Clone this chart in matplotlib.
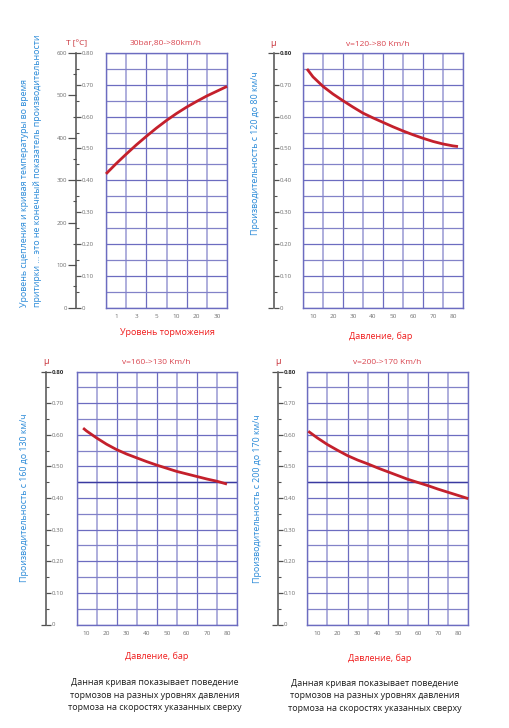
import matplotlib
matplotlib.use("Agg")
import matplotlib.pyplot as plt
import numpy as np

plt.rcParams['font.family'] = ['Open Sans', 'DejaVu Sans']

# ---------------- data ----------------
p1_levels = ["1", "3", "5", "10", "20", "30"]
p1_curve_x = [0, 0.5, 1, 1.5, 2, 2.5, 3, 3.5, 4, 4.5, 5, 5.5, 6]
p1_curve_mu = [0.420, 0.452, 0.482, 0.511, 0.538, 0.564, 0.588, 0.610,
               0.630, 0.648, 0.665, 0.680, 0.695]
p1_temp_ticks = [0, 100, 200, 300, 400, 500, 600]

pressure_labels = [10, 20, 30, 40, 50, 60, 70, 80]

p2_press = [7, 10, 15, 20, 25, 30, 35, 40, 45, 50, 55, 60, 65, 70, 75, 80, 82.5]
p2_mu = [0.750, 0.725, 0.695, 0.671, 0.650, 0.630, 0.611, 0.596, 0.582,
         0.568, 0.555, 0.543, 0.532, 0.522, 0.514, 0.508, 0.506]

p3_press = [8.3, 10, 15, 20, 25, 30, 35, 40, 45, 50, 55, 60, 65, 70, 75, 80]
p3_mu = [0.621, 0.612, 0.590, 0.570, 0.553, 0.539, 0.527, 0.515, 0.504,
         0.494, 0.484, 0.476, 0.468, 0.460, 0.453, 0.444]

p4_press = [5.5, 10, 15, 20, 25, 30, 35, 40, 45, 50, 55, 60, 65, 70, 75, 80, 85]
p4_mu = [0.611, 0.590, 0.569, 0.551, 0.534, 0.520, 0.508, 0.495, 0.483,
         0.471, 0.459, 0.449, 0.439, 0.428, 0.418, 0.408, 0.398]

mu_ticks = [0, 0.1, 0.2, 0.3, 0.4, 0.5, 0.6, 0.7, 0.8]
mu_labels = ["0", "0.10", "0.20", "0.30", "0.40", "0.50", "0.60", "0.70", "0.80"]

titles = ["30bar,80->80km/h", "v=120->80 Km/h", "v=160->130 Km/h", "v=200->170 Km/h"]
ylabels = ["Производительность с 120 до 80 км/ч",
           "Производительность с 160 до 130 км/ч",
           "Производительность с 200 до 170 км/ч"]
p1_ylabel = ("Уровень сцепления и кривая температуры во время\n"
             "притирки ... это не конечный показатель производительности")
p1_xlabel = "Уровень торможения"
press_xlabel = "Давление, бар"
caption = ("Данная кривая показывает поведение\n"
           "тормозов на разных уровнях давления\n"
           "тормоза на скоростях указанных сверху")

# ---------------- style ----------------
W, H = 509, 728
fig = plt.figure(figsize=(W / 100, H / 100), dpi=100)

GRID_D = "#6c6cc0"
GRID_L = "#a8a8da"
CURVE = "#c4202c"
TITLE_RED = "#d9454f"
XLAB_RED = "#f01c1c"
BLUE = "#2a8ad8"
TICK_GRAY = "#707070"
SPINE = "#505050"


def rect(x0, y0, x1, y1):
    return [x0 / W, 1 - y1 / H, (x1 - x0) / W, (y1 - y0) / H]


def grid_axes(box, xlim, vlines, xticks, xticklabels, dark_h=None):
    ax = fig.add_axes(rect(*box))
    ax.set_xlim(*xlim)
    ax.set_ylim(0, 0.8)
    for i, v in enumerate(vlines):
        ax.axvline(v, color=GRID_D if i % 2 == 0 else GRID_L,
                   lw=0.9 if i % 2 == 0 else 1.3, zorder=1)
    for j, h in enumerate(np.arange(0, 0.801, 0.05)):
        ax.axhline(h, color=GRID_D if j % 2 == 0 else "#8282c8", lw=0.9, zorder=1)
    if dark_h is not None:
        ax.axhline(dark_h, color="#3a3aa0", lw=1.0, zorder=1)
    for s in ax.spines.values():
        s.set_color(GRID_D)
        s.set_linewidth(1.0)
    ax.set_yticks([])
    ax.set_xticks(xticks)
    ax.set_xticklabels(xticklabels)
    ax.tick_params(axis='x', length=0, pad=5, labelsize=4.6, labelcolor=TICK_GRAY)
    return ax


def thin_axes(sx, box):
    x0, y0, x1, y1 = box
    a = fig.add_axes([sx / W, 1 - y1 / H, 0.2 / W, (y1 - y0) / H])
    a.patch.set_alpha(0)
    a.set_xticks([])
    for s in a.spines.values():
        s.set_visible(False)
    return a


def spine_axes(sx, box, bold_top=True):
    sax = thin_axes(sx, box)
    sax.set_ylim(0, 0.8)
    sax.spines['right'].set_visible(True)
    sax.spines['right'].set_color(SPINE)
    sax.spines['right'].set_linewidth(1.1)
    sax.set_yticks(mu_ticks)
    sax.set_yticklabels(mu_labels)
    sax.set_yticks(np.arange(0.05, 0.8, 0.1), minor=True)
    sax.tick_params(axis='y', which='both', left=False, right=True,
                    labelleft=False, labelright=True)
    sax.tick_params(axis='y', which='major', direction='out', length=3.6,
                    width=0.9, color=SPINE, labelsize=4.4, labelcolor=TICK_GRAY, pad=0.6)
    sax.tick_params(axis='y', which='minor', direction='out', length=2.2,
                    width=0.8, color=SPINE)
    if bold_top:
        lab = sax.get_yticklabels()[-1]
        lab.set_color("#303030")
        lab.set_fontweight('bold')
    return sax


def left_axes(sx, box, ticks, labels, ymax, length):
    lax = thin_axes(sx, box)
    lax.set_ylim(0, ymax)
    lax.set_yticks(ticks)
    lax.set_yticklabels(labels)
    lax.tick_params(axis='y', which='both', left=True, right=False,
                    labelleft=True, labelright=False)
    lax.tick_params(axis='y', direction='out', length=length, width=0.9,
                    color=SPINE, labelsize=4.4, labelcolor=TICK_GRAY, pad=0.6)
    return lax


# ---------------- panel 1 ----------------
box1 = (106, 53, 227, 307.5)
ax1 = grid_axes(box1, (0, 6), list(range(0, 7)),
                [i + 0.5 for i in range(len(p1_levels))], p1_levels)
ax1.plot(p1_curve_x, p1_curve_mu, color=CURVE, lw=2.0, zorder=3,
         solid_capstyle='butt', clip_on=False)
spine_axes(75.5, box1, bold_top=False)
l1 = left_axes(75.5, box1, p1_temp_ticks, [str(t) for t in p1_temp_ticks], 600, 5.6)
l1.set_yticks(np.arange(50, 600, 100), minor=True)
l1.tick_params(axis='y', which='minor', direction='out', length=2.2, width=0.8, color=SPINE)

# ---------------- panels 2-4 ----------------
press_lines = list(range(5, 86, 10))
box2 = (303, 53, 463, 307.5)
box3 = (76.5, 371.5, 237, 624.5)
box4 = (307.3, 371.5, 468.3, 624.5)

ax2 = grid_axes(box2, (5, 85), press_lines, pressure_labels, pressure_labels)
ax2.plot(p2_press, p2_mu, color=CURVE, lw=2.0, zorder=3, solid_capstyle='butt')
spine_axes(273.3, box2)
left_axes(273.3, box2, [0, 0.8], ["", ""], 0.8, 3.6)

ax3 = grid_axes(box3, (5, 85), press_lines, pressure_labels, pressure_labels, dark_h=0.45)
ax3.plot(p3_press, p3_mu, color=CURVE, lw=2.0, zorder=3, solid_capstyle='butt')
spine_axes(45.7, box3)
left_axes(45.7, box3, [0, 0.8], ["", ""], 0.8, 3.6)

ax4 = grid_axes(box4, (5, 85), press_lines, pressure_labels, pressure_labels, dark_h=0.45)
ax4.plot(p4_press, p4_mu, color=CURVE, lw=2.0, zorder=3, solid_capstyle='butt',
         clip_on=False)
spine_axes(277.3, box4)
left_axes(277.3, box4, [0, 0.8], ["", ""], 0.8, 3.6)

# ---------------- texts ----------------
def ftext(x, y, s, **kw):
    fig.text(x / W, 1 - y / H, s, **kw)

ftext(166, 44, titles[0], ha='center', va='center', fontsize=6.0, color=TITLE_RED)
ftext(378, 44, titles[1], ha='center', va='center', fontsize=6.0, color=TITLE_RED)
ftext(156, 362, titles[2], ha='center', va='center', fontsize=6.0, color=TITLE_RED)
ftext(387, 362, titles[3], ha='center', va='center', fontsize=6.0, color=TITLE_RED)

ftext(77, 44, "T [°C]", ha='center', va='center', fontsize=6.0, color="#c83038")
ftext(273, 44, "μ", ha='center', va='center', fontsize=6.5, color="#c83038")
ftext(46, 361, "μ", ha='center', va='center', fontsize=6.5, color="#c83038")
ftext(278, 361, "μ", ha='center', va='center', fontsize=6.5, color="#c83038")

ftext(31, 307, p1_ylabel, ha='center', va='bottom', rotation=90, fontsize=6.4,
      color=BLUE, multialignment='left', linespacing=1.45)
ftext(255, 153, ylabels[0], ha='center', va='center', rotation=90, fontsize=6.4, color=BLUE)
ftext(25, 498, ylabels[1], ha='center', va='center', rotation=90, fontsize=6.4, color=BLUE)
ftext(258, 499, ylabels[2], ha='center', va='center', rotation=90, fontsize=6.4, color=BLUE)

ftext(167, 333, p1_xlabel, ha='center', va='center', fontsize=6.5, color=XLAB_RED)
ftext(381, 336, press_xlabel, ha='center', va='center', fontsize=6.5, color=XLAB_RED)
ftext(157, 656, press_xlabel, ha='center', va='center', fontsize=6.5, color=XLAB_RED)
ftext(380, 658, press_xlabel, ha='center', va='center', fontsize=6.5, color=XLAB_RED)

ftext(155, 695, caption, ha='center', va='center', fontsize=6.4, color="#1e1e1e",
      linespacing=1.45)
ftext(375, 696, caption, ha='center', va='center', fontsize=6.4, color="#1e1e1e",
      linespacing=1.45)

fig.savefig("out.png", dpi=100)
